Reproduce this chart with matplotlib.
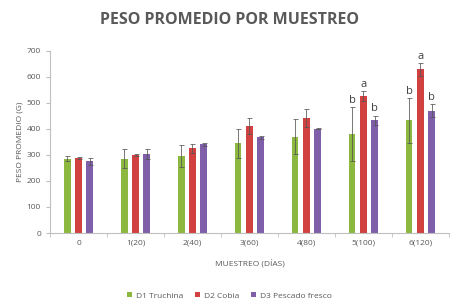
import matplotlib.pyplot as plt
import numpy as np

plt.rcParams['font.family'] = ['Open Sans', 'DejaVu Sans']

categorias = ['0', '1(20)', '2(40)', '3(60)', '4(80)', '5(100)', '6(120)']
series = ['D1 Truchina', 'D2 Cobia', 'D3 Pescado fresco']
d1 = [286, 286, 296, 344, 369, 381, 433]
d2 = [287, 299, 325, 410, 440, 526, 628]
d3 = [275, 303, 340, 367, 401, 433, 469]
d1_err = [10, 36, 41, 57, 67, 104, 86]
d2_err = [3, 3, 17, 30, 35, 19, 26]
d3_err = [13, 19, 5, 5, 2, 18, 25]
letras = {5: ['b', 'a', 'b'], 6: ['b', 'a', 'b']}

colores = ['#8DB840', '#D0413F', '#7F5FAA']
gris = '#595959'

fig = plt.figure(figsize=(4.59, 3.05), dpi=100)
ax = fig.add_axes([0.109, 0.236, 0.869, 0.598])

x = np.arange(len(categorias))
ancho = 0.12
datos = [d1, d2, d3]
errores = [d1_err, d2_err, d3_err]
for i in range(3):
    pos = x + (i - 1) * 0.2
    ax.bar(pos, datos[i], ancho, color=colores[i], label=series[i], zorder=2)
    ax.errorbar(pos, datos[i], yerr=errores[i], fmt='none', ecolor='#555555',
                elinewidth=0.7, capsize=1.8, capthick=0.7, alpha=0.8, zorder=3)

for g, ls in letras.items():
    for i in range(3):
        ax.text(x[g] + (i - 1) * 0.2, datos[i][g] + errores[i][g] + 4, ls[i],
                ha='center', va='bottom', fontsize=8, color='#404040')

ax.set_xlim(-0.5, 6.5)
ax.set_ylim(0, 700)
ax.set_yticks(range(0, 701, 100))
ax.set_xticks(x)
ax.set_xticklabels(categorias)
ax.set_xticks(np.arange(-0.5, 7, 1), minor=True)
ax.tick_params(axis='x', which='major', length=0, labelsize=6, colors=gris, pad=5)
ax.tick_params(axis='x', which='minor', length=3, color='#BFBFBF')
ax.tick_params(axis='y', length=3, color='#BFBFBF', labelsize=6, labelcolor=gris)
for s in ['top', 'right']:
    ax.spines[s].set_visible(False)
for s in ['left', 'bottom']:
    ax.spines[s].set_color('#BFBFBF')
    ax.spines[s].set_linewidth(0.8)

ax.set_ylabel('PESO PROMEDIO (G)', fontsize=6, color=gris, labelpad=2)
ax.set_xlabel('MUESTREO (DÍAS)', fontsize=6, color=gris, labelpad=9)
fig.text(0.5, 0.935, 'PESO PROMEDIO POR MUESTREO', ha='center', va='center',
         fontsize=11.5, fontweight='bold', color=gris)

fig.legend(loc='center', bbox_to_anchor=(0.5, 0.03), ncol=3, frameon=False,
           fontsize=6, handlelength=0.6, handleheight=0.6, handletextpad=0.4,
           columnspacing=1.5, labelcolor=gris)

fig.savefig('out.png', dpi=100)
